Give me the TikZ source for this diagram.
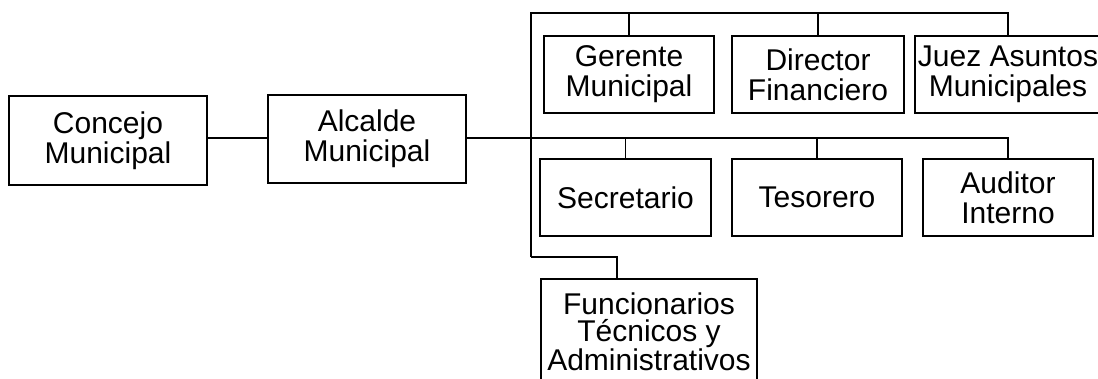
\documentclass[tikz,border=0pt]{standalone}
\usepackage{fontspec}
\setmainfont{Liberation Sans}
\begin{document}
\begin{tikzpicture}[x=1pt,y=-1pt,
        caja/.style={draw,line width=1.6pt,align=center,inner sep=0pt,
            font=\fontsize{30}{30}\selectfont},
        linea/.style={line width=1.6pt}]
            \useasboundingbox (0,0) rectangle (1098,379);
            \clip (0,0) rectangle (1098,379);

            \node[caja,minimum width=198pt,minimum height=89pt] (concejo) at (108,140.5) {Concejo\\Municipal};
            \node[caja,minimum width=198pt,minimum height=88pt] (alcalde) at (367,139) {Alcalde\\Municipal};

            \node[caja,minimum width=170pt,minimum height=77pt] (gerente) at (629,74.5) {Gerente\\Municipal};
            \node[caja,minimum width=172pt,minimum height=77pt] (director) at (818,74.5) {Director\\Financiero};
            \node[caja,minimum width=186pt,minimum height=77pt] (juez) at (1008,74.5) {Juez Asuntos\\Municipales};

            \node[caja,minimum width=171pt,minimum height=77pt] (secretario) at (625.5,197.5) {Secretario};
            \node[caja,minimum width=170pt,minimum height=77pt] (tesorero) at (817,197.5) {Tesorero};
            \node[caja,minimum width=170pt,minimum height=77pt] (auditor) at (1008,197.5) {Auditor\\Interno};

            \node[caja,font=\fontsize{30}{26.5}\selectfont,minimum width=216pt,minimum height=106pt]
                (funcionarios) at (649,332) {Funcionarios\\T\'ecnicos y\\Administrativos};

            \coordinate (tronco) at (531,138);
            \coordinate (arriba) at (531,13);
            \coordinate (abajo) at (531,257);

            \draw[linea] (concejo.east |- tronco) -- (alcalde.west |- tronco);
            \draw[linea] (alcalde.east |- tronco) -- (auditor.north |- tronco) -- (auditor.north);
            \draw[linea] (abajo) -- (arriba) -- (juez.north |- arriba) -- (juez.north);
            \foreach \n in {gerente,director}
                \draw[linea] (\n.north |- arriba) -- (\n.north);
            \foreach \n in {secretario,tesorero}
                \draw[linea] (\n.north |- tronco) -- (\n.north);
            \draw[linea] (abajo) -- ([xshift=-32pt]funcionarios.north |- abajo) -- ([xshift=-32pt]funcionarios.north);
        \end{tikzpicture}
\end{document}
